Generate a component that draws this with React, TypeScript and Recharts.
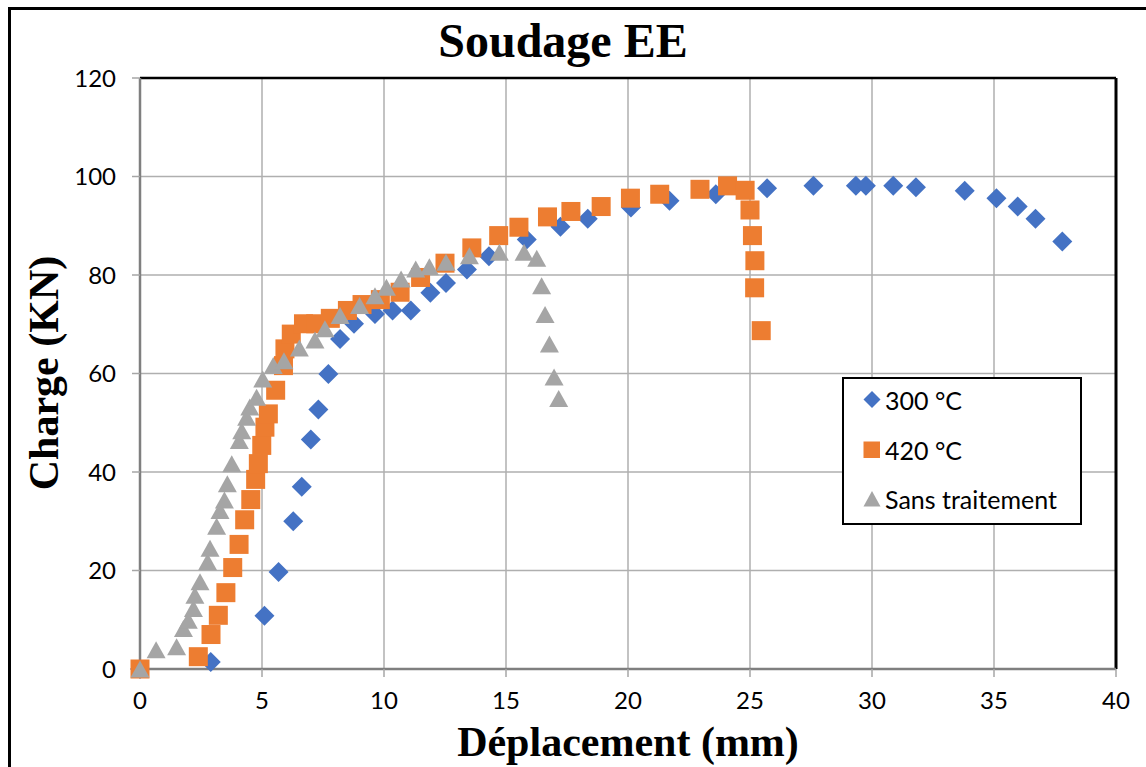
import {
  ScatterChart,
  Scatter,
  XAxis,
  YAxis,
  CartesianGrid,
  Legend,
  ReferenceLine,
  Customized,
} from "recharts";

// Déplacement (mm) / Charge (KN)
const depl300 = [0, 2.9, 5.1, 5.68, 6.28, 6.63, 7.0, 7.31, 7.72, 8.2, 8.77, 9.63, 10.35, 11.1, 11.9, 12.54, 13.4, 14.3, 15.85, 17.23, 18.35, 20.12, 21.7, 23.6, 25.7, 27.6, 29.34, 29.75, 30.87, 31.8, 33.8, 35.1, 35.97, 36.7, 37.8];
const charge300 = [0, 1.4, 10.8, 19.7, 30.0, 37.0, 46.6, 52.7, 59.9, 67.0, 70.1, 72.1, 72.8, 72.8, 76.4, 78.4, 81.1, 83.8, 87.2, 89.8, 91.4, 93.7, 95.1, 96.4, 97.6, 98.1, 98.1, 98.1, 98.1, 97.8, 97.1, 95.6, 93.9, 91.4, 86.8];

const depl420 = [0, 2.39, 2.91, 3.21, 3.52, 3.8, 4.06, 4.29, 4.54, 4.74, 4.85, 4.99, 5.12, 5.26, 5.56, 5.88, 5.94, 6.2, 6.7, 7.2, 7.8, 8.5, 9.1, 9.85, 10.66, 11.5, 12.5, 13.6, 14.7, 15.53, 16.7, 17.66, 18.9, 20.1, 21.3, 22.95, 24.08, 24.8, 25.0, 25.1, 25.2, 25.19, 25.46];
const charge420 = [0, 2.5, 7.0, 10.9, 15.5, 20.6, 25.3, 30.3, 34.4, 38.5, 41.7, 45.4, 49.1, 51.8, 56.6, 61.6, 65.0, 68.0, 70.1, 70.1, 71.2, 72.8, 74.0, 75.0, 76.5, 79.5, 82.4, 85.5, 88.0, 89.7, 91.8, 92.9, 93.9, 95.6, 96.4, 97.4, 98.1, 97.2, 93.2, 88.0, 82.9, 77.4, 68.7];

const deplSans = [0, 0.66, 1.5, 1.78, 1.98, 2.19, 2.25, 2.46, 2.77, 2.87, 3.14, 3.28, 3.46, 3.58, 3.76, 4.07, 4.17, 4.37, 4.5, 4.78, 5.03, 5.46, 5.9, 6.53, 7.17, 7.58, 8.2, 9.0, 9.63, 10.1, 10.7, 11.3, 11.86, 12.54, 13.5, 14.73, 15.74, 16.26, 16.46, 16.6, 16.78, 16.97, 17.16];
const chargeSans = [0, 3.9, 4.5, 8.2, 9.9, 12.3, 15.0, 17.7, 21.8, 24.5, 29.0, 32.2, 34.3, 37.6, 41.7, 46.4, 48.4, 51.1, 53.2, 55.2, 58.9, 61.6, 62.6, 65.2, 66.8, 69.1, 71.8, 73.8, 75.8, 77.5, 79.2, 81.2, 81.7, 82.6, 83.9, 84.6, 84.6, 83.4, 77.8, 72.0, 66.0, 59.3, 54.9];

const xTicks = [0, 5, 10, 15, 20, 25, 30, 35, 40];
const yTicks = [0, 20, 40, 60, 80, 100, 120];

const seriesNames = ["300 °C", "420 °C", "Sans traitement"];
const BLUE = "#4472C4";
const ORANGE = "#ED7D31";
const GRAY = "#A5A5A5";

const toPoints = (xs: number[], ys: number[]) => xs.map((x, i) => ({ x, y: ys[i] }));

const data300 = toPoints(depl300, charge300);
const data420 = toPoints(depl420, charge420);
const dataSans = toPoints(deplSans, chargeSans);

const TICK_FONT = "Lato, 'Open Sans', sans-serif";
const SERIF = "'Liberation Serif', 'DejaVu Serif', serif";

function Diamond(props: any) {
  const { cx, cy } = props;
  const r = 10;
  return <path d={`M${cx},${cy - r}L${cx + r},${cy}L${cx},${cy + r}L${cx - r},${cy}Z`} fill={BLUE} />;
}

function Square(props: any) {
  const { cx, cy } = props;
  return <rect x={cx - 9.5} y={cy - 9.5} width={19} height={19} fill={ORANGE} />;
}

function Triangle(props: any) {
  const { cx, cy } = props;
  return <path d={`M${cx},${cy - 8.5}L${cx + 9.5},${cy + 8.5}L${cx - 9.5},${cy + 8.5}Z`} fill={GRAY} />;
}

// legend drawn as a boxed list like the Excel original
function renderLegend() {
  const markers = [
    <path d="M9,0L17.5,8.5L9,17L0.5,8.5Z" fill={BLUE} />,
    <rect x={0.5} y={0.5} width={16.5} height={16.5} fill={ORANGE} />,
    <path d="M9,1L17.5,16.5L0.5,16.5Z" fill={GRAY} />,
  ];
  return (
    <div style={{ position: "relative", width: "100%", height: "100%" }}>
      {seriesNames.map((name, i) => (
        <div
          key={name}
          style={{
            position: "absolute",
            left: 19,
            top: 21 + i * 49.5 - 14,
            height: 28,
            display: "flex",
            alignItems: "center",
            fontFamily: TICK_FONT,
            fontSize: 25,
            color: "#000",
            whiteSpace: "nowrap",
          }}
        >
          <svg width={18} height={18} style={{ marginRight: 4 }}>
            {markers[i]}
          </svg>
          {name}
        </div>
      ))}
    </div>
  );
}

function Titles() {
  return (
    <g>
      <text x={563} y={57} textAnchor="middle" fontFamily={SERIF} fontWeight="bold" fontSize={48} fill="#000">
        Soudage EE
      </text>
      <text x={628} y={756} textAnchor="middle" fontFamily={SERIF} fontWeight="bold" fontSize={42} fill="#000">
        Déplacement (mm)
      </text>
      <text
        x={0}
        y={0}
        transform="translate(58,373) rotate(-90)"
        textAnchor="middle"
        fontFamily={SERIF}
        fontWeight="bold"
        fontSize={42}
        fill="#000"
      >
        Charge (KN)
      </text>
    </g>
  );
}

export default function App() {
  return (
    <div style={{ position: "absolute", left: 0, top: 0, width: 1146, height: 767, overflow: "hidden", background: "#fff" }}>
      {/* outer chart-area frame, only its top and left edges are inside the picture */}
      <div style={{ position: "absolute", left: 8, top: 7, width: 1400, height: 1000, border: "3px solid #000" }} />
      <ScatterChart width={1146} height={767} margin={{ top: 78, right: 30, bottom: 58, left: 80 }}>
        <CartesianGrid stroke="#AFAFAF" strokeWidth={1.5} />
        <XAxis
          type="number"
          dataKey="x"
          domain={[0, 40]}
          ticks={xTicks}
          interval={0}
          height={40}
          axisLine={{ stroke: "#7F7F7F", strokeWidth: 2.5 }}
          tickLine={{ stroke: "#A6A6A6", strokeWidth: 1.5 }}
          tickSize={8}
          tickMargin={15}
          tick={{ fontFamily: TICK_FONT, fontSize: 24, fill: "#000" }}
        />
        <YAxis
          type="number"
          dataKey="y"
          domain={[0, 120]}
          ticks={yTicks}
          interval={0}
          width={60}
          axisLine={{ stroke: "#7F7F7F", strokeWidth: 2.5 }}
          tickLine={{ stroke: "#A6A6A6", strokeWidth: 1.5 }}
          tickSize={8}
          tickMargin={16}
          tick={{ fontFamily: TICK_FONT, fontSize: 24, fill: "#000" }}
        />
        <ReferenceLine y={120} stroke="#000" strokeWidth={2.5} />
        <ReferenceLine x={40} stroke="#000" strokeWidth={3} />
        <Scatter name={seriesNames[0]} data={data300} shape={Diamond} isAnimationActive={false} />
        <Scatter name={seriesNames[1]} data={data420} shape={Square} isAnimationActive={false} />
        <Scatter name={seriesNames[2]} data={dataSans} shape={Triangle} isAnimationActive={false} />
        <Legend
          layout="vertical"
          align="center"
          verticalAlign="middle"
          content={renderLegend}
          wrapperStyle={{
            left: 842,
            top: 377,
            width: 240,
            height: 148,
            border: "2.5px solid #000",
            background: "#fff",
            boxSizing: "border-box",
          }}
        />
        <Customized component={Titles} />
      </ScatterChart>
    </div>
  );
}
